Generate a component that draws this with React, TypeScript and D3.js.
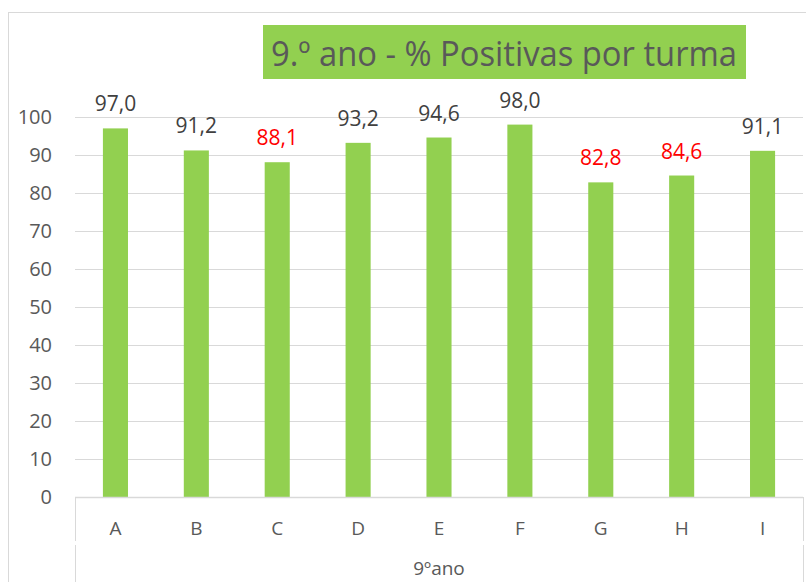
import React from "react";
import * as d3 from "d3";

const categories = ["A", "B", "C", "D", "E", "F", "G", "H", "I"];
const values = [97.0, 91.2, 88.1, 93.2, 94.6, 98.0, 82.8, 84.6, 91.1];
const yTicks = [0, 10, 20, 30, 40, 50, 60, 70, 80, 90, 100];
const title = "9.º ano - % Positivas por turma";
const groupLabel = "9ºano";

const W = 806;
const H = 582;
const FONT = "'Open Sans', 'Liberation Sans', sans-serif";

export default function App() {
  const x = d3
    .scaleBand<string>()
    .domain(categories)
    .range([75, 803])
    .paddingInner(0.69)
    .paddingOuter(0.345);
  const y = d3.scaleLinear().domain([0, 100]).range([497, 117]);
  const fmt = (v: number) => d3.format(".1f")(v).replace(".", ",");

  return (
    <svg
      width={W}
      height={H}
      style={{ position: "absolute", left: 0, top: 0, background: "#fff" }}
      fontFamily={FONT}
    >
      <rect x={8.5} y={12.5} width={820} height={620} fill="#fff" stroke="#d9d9d9" strokeWidth={1} />
      {/* gridlines */}
      {yTicks.map((t) => (
        <line
          key={"g" + t}
          x1={75}
          x2={803}
          y1={Math.round(y(t)) + 0.5}
          y2={Math.round(y(t)) + 0.5}
          stroke="#d9d9d9"
          strokeWidth={1}
        />
      ))}
      {/* y tick labels */}
      {yTicks.map((t) => (
        <text key={"t" + t} x={52} y={y(t) + 7} textAnchor="end" fontSize={20} fill="#595959">
          {t}
        </text>
      ))}
      {/* bars */}
      {values.map((v, i) => (
        <rect
          key={"b" + i}
          x={x(categories[i])}
          y={y(v)}
          width={x.bandwidth()}
          height={y(0) - y(v)}
          fill="#92d050"
        />
      ))}
      {/* axis line & category group boxes */}
      <line x1={75} x2={803} y1={497.5} y2={497.5} stroke="#d9d9d9" strokeWidth={1.5} />
      <line x1={75.5} x2={75.5} y1={497} y2={541} stroke="#d9d9d9" strokeWidth={1} />
      <line x1={75.5} x2={75.5} y1={545} y2={582} stroke="#d9d9d9" strokeWidth={1} />
      <line x1={803.5} x2={803.5} y1={497} y2={541} stroke="#d9d9d9" strokeWidth={1} />
      <line x1={803.5} x2={803.5} y1={545} y2={582} stroke="#d9d9d9" strokeWidth={1} />
      {/* data labels */}
      {values.map((v, i) => (
        <text
          key={"l" + i}
          x={(x(categories[i]) ?? 0) + x.bandwidth() / 2}
          y={y(v) - 17}
          textAnchor="middle"
          fontSize={21}
          fill={v < 90 ? "#ff0000" : "#404040"}
        >
          {fmt(v)}
        </text>
      ))}
      {/* category labels */}
      {categories.map((c) => (
        <text
          key={"c" + c}
          x={(x(c) ?? 0) + x.bandwidth() / 2}
          y={535}
          textAnchor="middle"
          fontSize={19}
          fill="#595959"
        >
          {c}
        </text>
      ))}
      <text x={439} y={575} textAnchor="middle" fontSize={19} fill="#595959">
        {groupLabel}
      </text>
      {/* title */}
      <rect x={263} y={25} width={483} height={54} fill="#92d050" />
      <text
        x={271}
        y={66}
        fontSize={34}
        fill="#595959"
        textLength={466}
        lengthAdjust="spacingAndGlyphs"
      >
        {title}
      </text>
    </svg>
  );
}
